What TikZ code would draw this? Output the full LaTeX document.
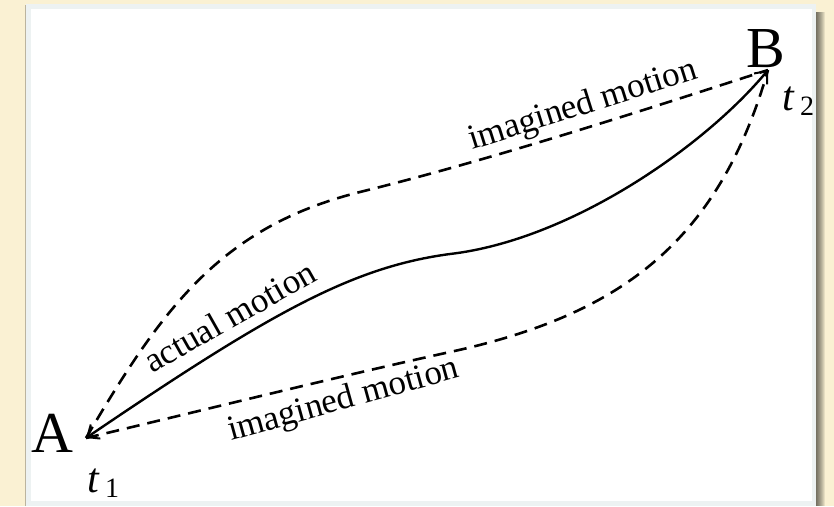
\documentclass[tikz,border=0pt]{standalone}
\usepackage{fontspec}
\setmainfont{Liberation Serif}
\usetikzlibrary{arrows.meta}
\definecolor{bgbeige}{RGB}{250,241,211}
\definecolor{panelrim}{RGB}{237,242,242}
\tikzset{
  actualpath/.style={line width=2.4pt},
  imaginedpath/.style={line width=2.6pt, dash pattern=on 13pt off 8pt},
  curvelabel/.style={font=\fontsize{35}{40}\selectfont, inner sep=0pt, anchor=base west},
  pointlabel/.style={font=\fontsize{58}{60}\selectfont, inner sep=0pt, anchor=base west},
  timelabel/.style={font=\fontsize{42}{46}\selectfont\itshape, inner sep=0pt, anchor=base west},
  sublabel/.style={font=\fontsize{28}{30}\selectfont, inner sep=0pt, anchor=base west},
  barb/.tip={Straight Barb[length=10pt,width=17pt,line width=2pt]}
}
\begin{document}
\begin{tikzpicture}[x=1pt,y=-1pt]
\useasboundingbox (0,0) rectangle (834,506);
% background and panel
\fill[bgbeige] (0,0) rectangle (834,506);
\foreach \i in {1,...,9} \fill[black,opacity=0.08] (40,12) rectangle (816+\i,506);
\fill[black,opacity=0.25] (24.5,5) rectangle (26,506);
\fill[panelrim] (26,4) rectangle (816,506);
\fill[white] (30.5,9) rectangle (812,501);

% end points
\coordinate (pA) at (86,438);
\coordinate (pB) at (768,70);
\coordinate (mS) at (450,254);
\coordinate (mU) at (360,192);
\coordinate (mL) at (450,352);

% labels of the points
\node[pointlabel] (A) at (31,452) {A};
\node[pointlabel] (B) at (746,67) {B};
\node[timelabel] (t1) at (87,492) {t};
\node[sublabel] (s1) at (105,497) {1};
\node[timelabel] (t2) at (782,110) {t};
\node[sublabel] (s2) at (800,115) {2};

% actual motion
\draw[actualpath, {barb}-{barb}] (pA) .. controls (270,313) and (352,267) .. (mS)
   .. controls (570,240) and (704,147) .. (pB);
% imagined motions
\draw[imaginedpath] (pA) .. controls (162,309) and (220,227) .. (mU)
   .. controls (490,160) and (638,112) .. (pB);
\draw[imaginedpath] (pA) .. controls (200,411) and (340,376) .. (mL)
   .. controls (620,315) and (718,243) .. (pB);

% curve labels
\node[curvelabel, rotate=17.5] (lu) at (472,150) {imagined motion};
\node[curvelabel, rotate=29.5] (la) at (152,374) {actual motion};
\node[curvelabel, rotate=15.5] (ll) at (231,441) {imagined motion};
\end{tikzpicture}
\end{document}
